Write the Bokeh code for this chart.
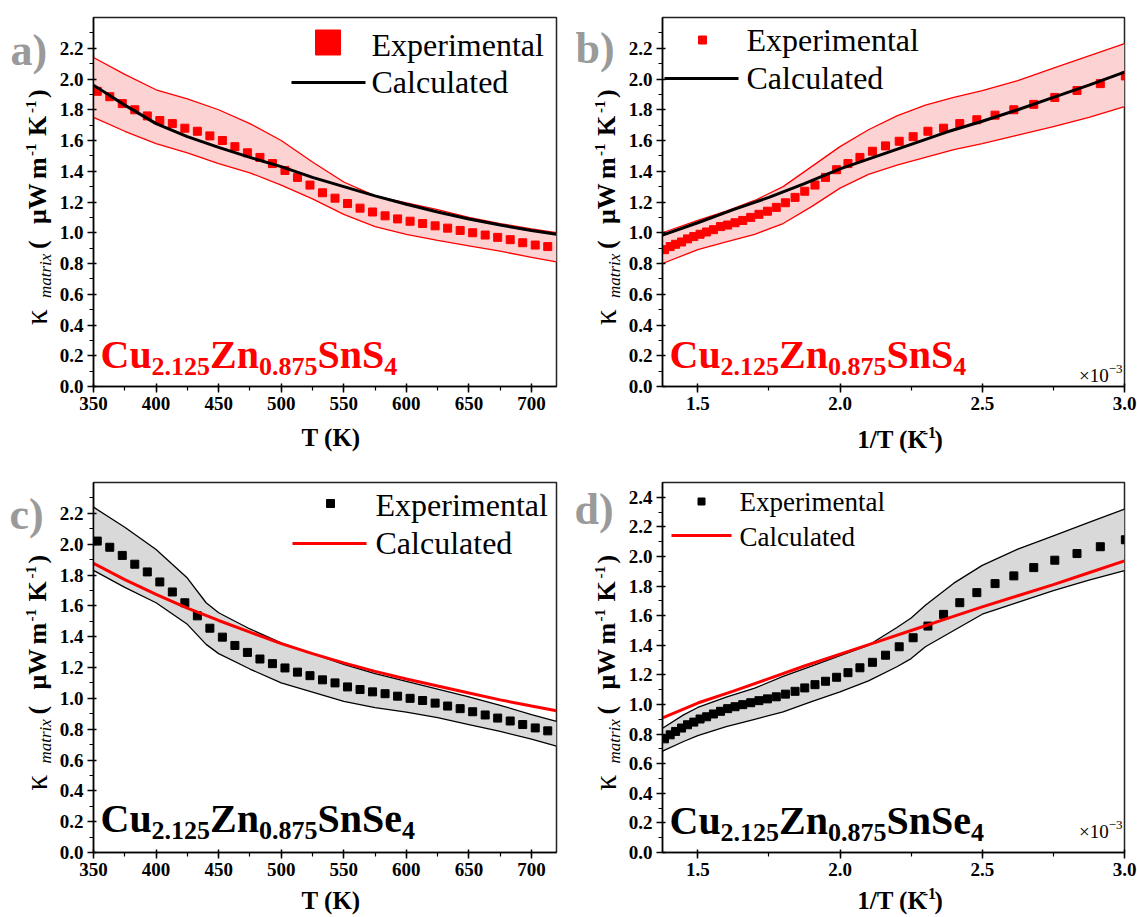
import math
from bokeh.plotting import figure
from bokeh.layouts import row, column
from bokeh.models import Label, SingleIntervalTicker, PrintfTickFormatter, Range1d
from bokeh.embed import file_html
from bokeh.resources import INLINE

SERIF = "Liberation Serif"
RED = "#ff0000"
BAND_RED = "#fcd2d2"
BAND_GRAY = "#d9d9d9"
LETTER_GRAY = "#9a9a9a"

# ---------------- data ----------------
T_exp = [353, 363, 373, 383, 393, 403, 413, 423, 433, 443, 453, 463, 473, 483, 493,
         503, 513, 523, 533, 543, 553, 563, 573, 583, 593, 603, 613, 623, 633, 643,
         653, 663, 673, 683, 693, 703, 713]
kexp_a = [1.92, 1.885, 1.84, 1.80, 1.76, 1.73, 1.71, 1.68, 1.66, 1.63, 1.60, 1.56, 1.52, 1.49, 1.45,
          1.405, 1.36, 1.31, 1.26, 1.225, 1.19, 1.16, 1.135, 1.11, 1.09, 1.075, 1.06, 1.045, 1.03, 1.015,
          1.00, 0.985, 0.97, 0.955, 0.935, 0.92, 0.91]
kexp_c = [2.02, 1.98, 1.927, 1.87, 1.82, 1.755, 1.69, 1.62, 1.535, 1.455, 1.397, 1.343, 1.298, 1.255, 1.225,
          1.197, 1.17, 1.147, 1.12, 1.10, 1.074, 1.057, 1.042, 1.03, 1.014, 1.00, 0.986, 0.969, 0.95, 0.933,
          0.913, 0.892, 0.872, 0.853, 0.83, 0.808, 0.789]

T_line = [350, 375, 400, 425, 450, 475, 500, 525, 550, 575, 600, 625, 650, 675, 700, 720]
kcalc_a = [1.96, 1.83, 1.71, 1.625, 1.555, 1.49, 1.43, 1.36, 1.30, 1.24, 1.185, 1.135, 1.09, 1.05, 1.015, 0.99]
ka_upper = [2.14, 2.03, 1.93, 1.87, 1.80, 1.71, 1.60, 1.46, 1.33, 1.24, 1.195, 1.15, 1.10, 1.06, 1.025, 1.00]
ka_lower = [1.75, 1.66, 1.58, 1.52, 1.45, 1.39, 1.31, 1.22, 1.12, 1.04, 0.99, 0.95, 0.915, 0.88, 0.84, 0.81]
kcalc_c = [1.875, 1.77, 1.675, 1.585, 1.505, 1.43, 1.355, 1.29, 1.23, 1.175, 1.125, 1.08, 1.035, 0.99, 0.95, 0.92]

T_band_c = [350, 375, 400, 425, 440, 450, 475, 500, 525, 550, 575, 600, 625, 650, 675, 700, 720]
kc_upper = [2.24, 2.11, 1.965, 1.78, 1.62, 1.555, 1.45, 1.36, 1.29, 1.22, 1.16, 1.11, 1.06, 1.01, 0.955, 0.895, 0.85]
kc_lower = [1.83, 1.72, 1.62, 1.48, 1.35, 1.29, 1.19, 1.10, 1.04, 0.98, 0.94, 0.91, 0.875, 0.83, 0.785, 0.735, 0.69]

invT_exp = [1.383, 1.403, 1.422, 1.443, 1.464, 1.486, 1.508, 1.531, 1.555, 1.580, 1.605, 1.631, 1.658, 1.686,
            1.715, 1.745, 1.776, 1.808, 1.842, 1.876, 1.912, 1.949, 1.988, 2.028, 2.070, 2.114, 2.160, 2.208,
            2.257, 2.309, 2.364, 2.421, 2.481, 2.545, 2.611, 2.681, 2.755, 2.833, 2.915, 3.003]
kexp_b = [0.89, 0.91, 0.925, 0.94, 0.96, 0.975, 0.99, 1.005, 1.02, 1.04, 1.05, 1.065, 1.08, 1.10,
          1.12, 1.14, 1.165, 1.195, 1.23, 1.27, 1.31, 1.36, 1.41, 1.45, 1.49, 1.53, 1.565, 1.595,
          1.625, 1.66, 1.68, 1.71, 1.735, 1.765, 1.80, 1.835, 1.88, 1.925, 1.97, 2.02]
kexp_d = [0.768, 0.795, 0.818, 0.841, 0.863, 0.881, 0.902, 0.917, 0.936, 0.954, 0.972, 0.985, 0.999, 1.012,
          1.026, 1.038, 1.052, 1.07, 1.089, 1.112, 1.134, 1.157, 1.184, 1.215, 1.248, 1.285, 1.333, 1.39,
          1.451, 1.53, 1.609, 1.688, 1.756, 1.817, 1.869, 1.925, 1.975, 2.02, 2.066, 2.113]

invT_line = [1.376, 1.5, 1.625, 1.75, 1.875, 2.0, 2.125, 2.25, 2.375, 2.5, 2.625, 2.75, 2.875, 3.0]
kcalc_b = [0.985, 1.065, 1.15, 1.23, 1.32, 1.415, 1.495, 1.575, 1.655, 1.725, 1.80, 1.88, 1.96, 2.045]
kcalc_d = [0.91, 1.01, 1.09, 1.175, 1.26, 1.34, 1.42, 1.50, 1.58, 1.66, 1.735, 1.81, 1.89, 1.97]

invT_band_b = [1.376, 1.5, 1.6, 1.7, 1.8, 1.9, 2.0, 2.1, 2.2, 2.3, 2.4, 2.5, 2.625, 2.75, 2.875, 3.0]
kb_upper = [1.00, 1.08, 1.14, 1.21, 1.30, 1.43, 1.56, 1.67, 1.76, 1.83, 1.88, 1.925, 1.99, 2.07, 2.15, 2.23]
kb_lower = [0.80, 0.89, 0.94, 0.99, 1.06, 1.17, 1.29, 1.38, 1.44, 1.49, 1.54, 1.58, 1.635, 1.69, 1.75, 1.82]

invT_band_d = [1.376, 1.45, 1.5, 1.6, 1.7, 1.8, 1.9, 2.0, 2.1, 2.2, 2.25, 2.3, 2.4, 2.5, 2.625, 2.75, 2.875, 3.0]
kd_upper = [0.84, 0.93, 0.98, 1.05, 1.11, 1.19, 1.26, 1.33, 1.40, 1.52, 1.585, 1.67, 1.82, 1.94, 2.05, 2.14, 2.23, 2.32]
kd_lower = [0.685, 0.75, 0.79, 0.85, 0.90, 0.95, 1.02, 1.085, 1.16, 1.255, 1.31, 1.39, 1.50, 1.61, 1.69, 1.77, 1.84, 1.905]

# ---------------- text metrics (Times-compatible) ----------------
W_REG = {' ': .25, '(': .333, ')': .333, 'E': .611, 'x': .5, 'p': .5, 'e': .444, 'r': .333, 'i': .278,
         'm': .778, 'n': .5, 't': .278, 'a': .444, 'l': .278, 'C': .667, 'c': .444, 'u': .5, 'd': .5,
         '×': .564, '−': .564, '-': .333, '.': .25}
W_BOLD = {' ': .25, '(': .333, ')': .333, 'μ': .556, 'W': 1.0, 'm': .833, 'K': .778, 'T': .667,
          '-': .333, '/': .278, '.': .25, 'C': .722, 'u': .556, 'Z': .667, 'n': .556, 'S': .556, 'e': .444}
W_ITAL = {'m': .722, 'a': .5, 't': .278, 'r': .389, 'i': .278, 'x': .444}
MID = 0.33   # distance (in em) from a text's middle down to its baseline


def tw(text, size, style):
    tab = W_BOLD if style == "bold" else (W_ITAL if style == "italic" else W_REG)
    return sum(tab.get(ch, 0.5) for ch in text) * size


class PageMap:
    """maps page pixels to data coordinates of one figure's frame"""
    def __init__(self, fl, ft, fw, fh, xr, yr):
        self.fl, self.ft, self.fw, self.fh = fl, ft, fw, fh
        self.fr, self.fb = fl + fw, ft + fh
        self.xr, self.yr = xr, yr

    def x(self, px):
        return self.xr[0] + (px - self.fl) / self.fw * (self.xr[1] - self.xr[0])

    def y(self, py):
        return self.yr[0] + (self.fb - py) / self.fh * (self.yr[1] - self.yr[0])


def label(p, m, px, py, text, size, style="normal", color="black", align="left", vertical=False):
    # (px, py) is the start of the text's baseline, in page pixels
    if vertical:
        px, angle = px - MID * size, math.pi / 2
    else:
        py, angle = py - MID * size, 0.0
    p.add_layout(Label(x=m.x(px), y=m.y(py), text=text, text_font=SERIF,
                       text_font_size=f"{size}px", text_font_style=style, text_color=color,
                       text_align=align, text_baseline="middle", angle=angle))


def chain(p, m, x0, base, pieces, color="black"):
    x = x0
    for text, size, style, dy, gap in pieces:
        x += gap
        label(p, m, x, base + dy, text, size, style, color)
        x += tw(text, size, style)


def chain_width(pieces):
    return sum(tw(t, s, st) + g for t, s, st, _, g in pieces)


def canvas(x0, y0, w, h):
    """a figure whose frame is the whole canvas, in page-pixel coordinates"""
    p = figure(width=w, height=h, x_range=Range1d(x0, x0 + w), y_range=Range1d(y0 + h, y0),
               output_backend="svg", toolbar_location=None, title=None,
               x_axis_type=None, y_axis_type=None, min_border=0)
    p.outline_line_color = None
    p.background_fill_color = "white"
    p.border_fill_color = "white"
    p.grid.visible = False
    m = PageMap(x0, y0, w, h, (x0, x0 + w), (y0 + h, y0))
    return p, m


def main_fig(x0, y0, L, T, fw, fh, R, B, xr, yr, xint, xfmt):
    p = figure(frame_width=fw, frame_height=fh, x_range=Range1d(*xr), y_range=Range1d(*yr),
               output_backend="svg", toolbar_location=None, title=None,
               min_border_left=L, min_border_right=R, min_border_top=T, min_border_bottom=B)
    p.background_fill_color = "white"
    p.border_fill_color = "white"
    p.outline_line_color = "#222222"
    p.outline_line_width = 1.5
    p.grid.visible = False
    p.xaxis.ticker = SingleIntervalTicker(interval=xint, num_minor_ticks=2)
    p.yaxis.ticker = SingleIntervalTicker(interval=0.2, num_minor_ticks=2)
    p.xaxis.formatter = PrintfTickFormatter(format=xfmt)
    p.yaxis.formatter = PrintfTickFormatter(format="%.1f")
    for ax in (p.xaxis[0], p.yaxis[0]):
        ax.axis_line_color = "black"
        ax.axis_line_width = 1.5
        ax.major_tick_line_color = "black"
        ax.major_tick_line_width = 1.5
        ax.minor_tick_line_color = "black"
        ax.minor_tick_line_width = 1.2
        ax.major_tick_in = 3
        ax.major_tick_out = 6
        ax.minor_tick_in = 0
        ax.minor_tick_out = 4
        ax.major_label_text_font = SERIF
        ax.major_label_text_font_style = "bold"
        ax.major_label_text_font_size = "19px"
        ax.major_label_text_color = "black"
        ax.major_label_standoff = 4
    m = PageMap(x0 + L, y0 + T, fw, fh, xr, yr)
    return p, m


def ytitle(p, m, fl, ft, fh):
    bx, subx, supx = fl - 44, fl - 39, fl - 55
    y0 = ft + fh / 2 + 123
    label(p, m, bx, y0, "κ", 31, "normal", vertical=True)
    label(p, m, subx, y0 - 27, "matrix", 17, "italic", vertical=True)
    label(p, m, bx, y0 - 76, "(", 26, "bold", vertical=True)
    label(p, m, bx, y0 - 101, "μW", 26, "bold", vertical=True)
    label(p, m, bx, y0 - 146, "m", 26, "bold", vertical=True)
    label(p, m, supx, y0 - 169, "-1", 15, "bold", vertical=True)
    label(p, m, bx, y0 - 189, "K", 26, "bold", vertical=True)
    label(p, m, supx, y0 - 212, "-1", 15, "bold", vertical=True)
    label(p, m, bx, y0 - 227, ")", 26, "bold", vertical=True)


def formula(p, m, base, last, color):
    pieces = [("Cu", 40, "bold", 0, 0), ("2.125", 26, "bold", 8, 0), ("Zn", 40, "bold", 0, 0),
              ("0.875", 26, "bold", 8, 0), (last, 40, "bold", 0, 0), ("4", 26, "bold", 8, 0)]
    chain(p, m, m.fl + 7, base, pieces, color)


def xtitle_T(p, m, cx, base):
    label(p, m, cx, base, "T (K)", 25, "bold", align="center")


def xtitle_inv(p, m, cx, base):
    pieces = [("1/T (K", 25, "bold", 0, 0), ("-1", 16, "bold", -10, 3), (")", 25, "bold", 0, 0)]
    chain(p, m, cx - chain_width(pieces) / 2, base, pieces)


def times_ten(p, m, base):
    pieces = [("×10", 19, "normal", 0, 0), ("−3", 13, "normal", -8, 0)]
    chain(p, m, m.fr - 2 - chain_width(pieces), base, pieces)


def legend(p, m, sq, sq_size, sq_color, ln, ln_color, tx, base1, base2, fsize):
    p.scatter([m.x(sq[0])], [m.y(sq[1])], marker="square", size=sq_size, color=sq_color)
    p.line([m.x(ln[0]), m.x(ln[1])], [m.y(ln[2]), m.y(ln[2])], line_color=ln_color, line_width=3)
    label(p, m, tx, base1, "Experimental", fsize, "normal")
    label(p, m, tx, base2, "Calculated", fsize, "normal")


def band(p, x, lo, hi, fill, edge):
    p.varea(x=x, y1=lo, y2=hi, fill_color=fill, fill_alpha=1.0)
    p.line(x, hi, line_color=edge, line_width=1.3)
    p.line(x, lo, line_color=edge, line_width=1.3)


# ---------------- row 1 ----------------
la, mla = canvas(0, 0, 56, 462)
pa, ma = main_fig(56, 0, 34, 17, 463, 369, 17, 36, (350, 720), (0, 2.4), 50, "%d")
xa, mxa = canvas(56, 422, 514, 40)
lb, mlb = canvas(570, 0, 52, 462)
pb, mb = main_fig(622, 0, 34, 17, 462, 369, 17, 36, (1.376, 3.0), (0, 2.4), 0.5, "%.1f")
xb, mxb = canvas(622, 422, 513, 40)

band(pa, T_line, ka_lower, ka_upper, BAND_RED, RED)
pa.scatter(T_exp, kexp_a, marker="square", size=8, color=RED)
pa.line(T_line, kcalc_a, line_color="black", line_width=3)
legend(pa, ma, (324.5, 42), 25, RED, (288, 362, 82), "black", 368, 55, 92, 32)
formula(pa, ma, 367, "SnS", RED)
ytitle(la, mla, ma.fl, ma.ft, ma.fh)
label(la, mla, 10, 65, "a)", 44, "bold", LETTER_GRAY)
xtitle_T(xa, mxa, (ma.fl + ma.fr) / 2, 445)

band(pb, invT_band_b, kb_lower, kb_upper, BAND_RED, RED)
pb.scatter(invT_exp, kexp_b, marker="square", size=8, color=RED)
pb.line(invT_line, kcalc_b, line_color="black", line_width=3)
legend(pb, mb, (696, 39.5), 8, RED, (658, 732, 78), "black", 740, 50, 88, 32)
formula(pb, mb, 367, "SnS", RED)
times_ten(pb, mb, 381)
ytitle(lb, mlb, mb.fl, mb.ft, mb.fh)
label(lb, mlb, 572, 63, "b)", 44, "bold", LETTER_GRAY)
xtitle_inv(xb, mxb, (mb.fl + mb.fr) / 2, 447)

# ---------------- row 2 ----------------
lc, mlc = canvas(0, 462, 56, 453)
pc, mc = main_fig(56, 462, 34, 20, 463, 370, 17, 33, (350, 720), (0, 2.4), 50, "%d")
xc, mxc = canvas(56, 885, 514, 30)
ld, mld = canvas(570, 462, 52, 453)
pd_, md = main_fig(622, 462, 34, 20, 462, 370, 17, 33, (1.376, 3.0), (0, 2.5), 0.5, "%.1f")
xd, mxd = canvas(622, 885, 513, 30)

band(pc, T_band_c, kc_lower, kc_upper, BAND_GRAY, "black")
pc.scatter(T_exp, kexp_c, marker="square", size=8, color="black")
pc.line(T_line, kcalc_c, line_color=RED, line_width=3)
legend(pc, mc, (327, 503), 8, "black", (289, 363, 543), RED, 372, 515, 553, 32)
formula(pc, mc, 831, "SnSe", "black")
ytitle(lc, mlc, mc.fl, mc.ft, mc.fh)
label(lc, mlc, 9, 529, "c)", 44, "bold", LETTER_GRAY)
xtitle_T(xc, mxc, (mc.fl + mc.fr) / 2, 908)

band(pd_, invT_band_d, kd_lower, kd_upper, BAND_GRAY, "black")
pd_.scatter(invT_exp, kexp_d, marker="square", size=8, color="black")
pd_.line(invT_line, kcalc_d, line_color=RED, line_width=3)
legend(pd_, md, (695, 501), 7, "black", (665, 725, 535), RED, 733, 510, 545, 27)
formula(pd_, md, 833, "SnSe", "black")
times_ten(pd_, md, 837)
ytitle(ld, mld, md.fl, md.ft, md.fh)
label(ld, mld, 571, 524, "d)", 44, "bold", LETTER_GRAY)
xtitle_inv(xd, mxd, (md.fl + md.fr) / 2, 908)

layout = column(
    row(la, column(pa, xa), lb, column(pb, xb)),
    row(lc, column(pc, xc), ld, column(pd_, xd)),
)
open("out.html", "w").write(file_html(layout, INLINE, "chart"))
